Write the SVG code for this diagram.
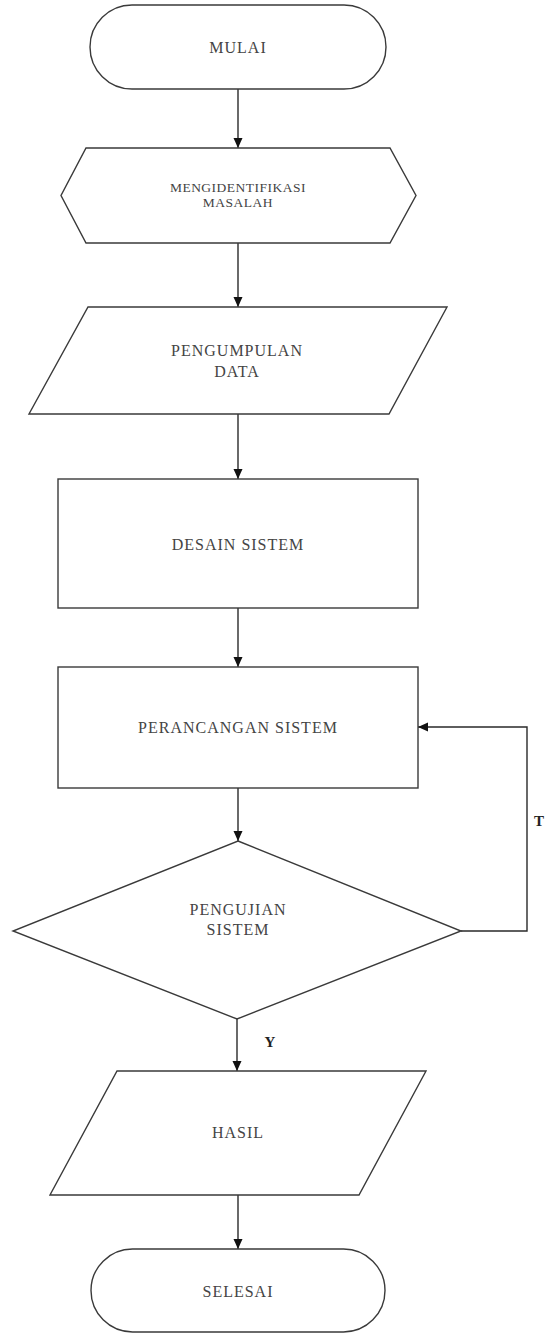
<svg xmlns="http://www.w3.org/2000/svg" width="546" height="1335" viewBox="0 0 546 1335">
<style>
.shape{fill:#fff;stroke:#3a3a3a;stroke-width:1.4}
.conn{fill:none;stroke:#2a2a2a;stroke-width:1.4}
.t{font-family:"Liberation Serif","Times New Roman",serif;font-size:16px;fill:#444;text-anchor:middle;letter-spacing:1px}
.s{font-size:13.5px;letter-spacing:0.5px}
.lbl{font-family:"Liberation Serif","Times New Roman",serif;font-size:15px;font-weight:bold;fill:#222;text-anchor:middle}
</style>
<defs>
<marker id="arr" markerUnits="userSpaceOnUse" markerWidth="10" markerHeight="10" viewBox="0 0 10 10" refX="10" refY="5" orient="auto">
<path d="M0,0.5 L10,5 L0,9.5 Z" fill="#111"/>
</marker>
</defs>
<rect width="546" height="1335" fill="#fff"/>
<g id="connectors">
<line class="conn" x1="238" y1="89" x2="238" y2="148" marker-end="url(#arr)"/>
<line class="conn" x1="238" y1="243" x2="238" y2="307" marker-end="url(#arr)"/>
<line class="conn" x1="238" y1="414" x2="238" y2="479" marker-end="url(#arr)"/>
<line class="conn" x1="238" y1="608" x2="238" y2="667" marker-end="url(#arr)"/>
<line class="conn" x1="238" y1="788" x2="238" y2="841" marker-end="url(#arr)"/>
<line class="conn" x1="237" y1="1019" x2="237" y2="1071" marker-end="url(#arr)"/>
<line class="conn" x1="238" y1="1195" x2="238" y2="1249" marker-end="url(#arr)"/>
<polyline class="conn" points="461,931 527,931 527,727 418,727" marker-end="url(#arr)"/>
<text class="lbl" x="539" y="826">T</text>
<text class="lbl" x="270" y="1047">Y</text>
</g>
<g id="mulai">
<rect class="shape" x="90" y="5" width="296" height="84" rx="42" ry="42"/>
<text class="t" x="238" y="53">MULAI</text>
</g>
<g id="identifikasi">
<polygon class="shape" points="86,148 390,148 416,195.5 390,243 86,243 61,195.5"/>
<text class="t s" x="238" y="192">MENGIDENTIFIKASI</text>
<text class="t s" x="238" y="207">MASALAH</text>
</g>
<g id="pengumpulan">
<polygon class="shape" points="88,307 447,307 389,414 29,414"/>
<text class="t" x="237" y="356">PENGUMPULAN</text>
<text class="t" x="237" y="377">DATA</text>
</g>
<g id="desain">
<rect class="shape" x="58" y="479" width="360" height="129"/>
<text class="t" x="238" y="550">DESAIN SISTEM</text>
</g>
<g id="perancangan">
<rect class="shape" x="58" y="667" width="360" height="121"/>
<text class="t" x="238" y="733">PERANCANGAN SISTEM</text>
</g>
<g id="pengujian">
<polygon class="shape" points="238,841 461,931 237,1019 13,931"/>
<text class="t" x="238" y="915">PENGUJIAN</text>
<text class="t" x="238" y="935">SISTEM</text>
</g>
<g id="hasil">
<polygon class="shape" points="117,1071 426,1071 359,1195 50,1195"/>
<text class="t" x="238" y="1138">HASIL</text>
</g>
<g id="selesai">
<rect class="shape" x="91" y="1249" width="294" height="83" rx="41.5" ry="41.5"/>
<text class="t" x="238" y="1297">SELESAI</text>
</g>
</svg>
